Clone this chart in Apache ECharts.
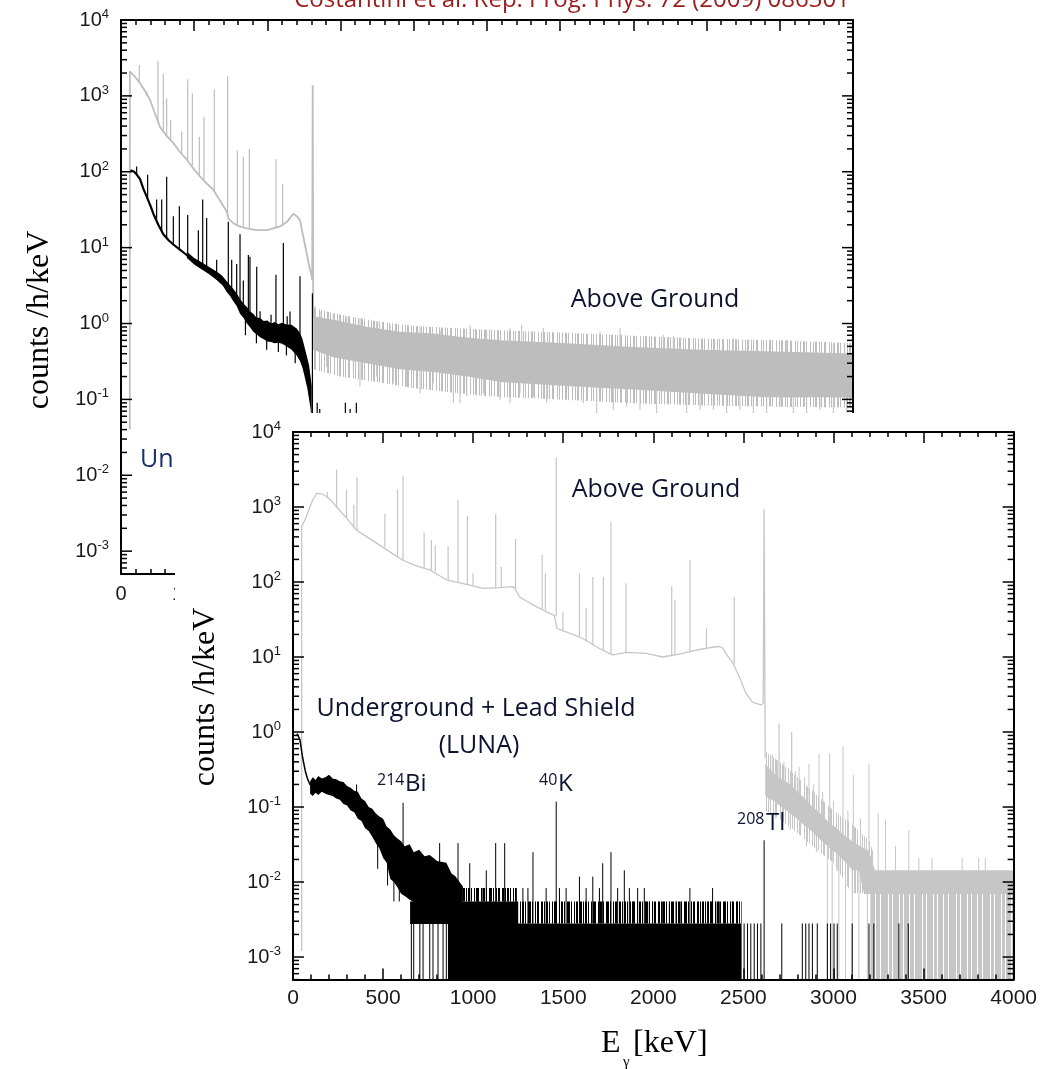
<!DOCTYPE html>
<html>
<head>
<meta charset="utf-8">
<script src="https://cdn.jsdelivr.net/npm/echarts@6/dist/echarts.min.js"></script>
<style>
  html, body { margin: 0; padding: 0; background: #fff; }
  #main { width: 1040px; height: 1069px; }
</style>
</head>
<body>
<div id="main"></div>
<script>
// ---------------- spectra (energy in keV, rate in counts/h/keV) ----------------

// Wide-range spectrum, above ground: smooth part up to the 2614 keV line
const backAboveCurve = [
  [120, 0.04], [121, 2100], [146, 2090], [200, 1750], [260, 1470], [330, 1150], [396, 890],
  [460, 600], [533, 390], [620, 300], [715, 240], [800, 185], [897, 145], [990, 110],
  [1079, 87], [1170, 70], [1261, 58], [1350, 42], [1444, 30], [1470, 24], [1535, 21],
  [1620, 19], [1717, 18], [1850, 17], [1990, 17], [2080, 18], [2172, 19], [2270, 22],
  [2354, 28], [2400, 26], [2445, 23], [2490, 14], [2536, 8.5], [2575, 5.5], [2605, 4.2],
  [2612, 3.8], [2619, 1380], [2626, 1.2]
];
// lines: [energy, foot, top]
const backAbovePeaks = [
  [250, 1470, 2550], [351, 1000, 1140], [505, 450, 2910], [578, 330, 1950], [624, 300, 930],
  [678, 260, 480], [829, 170, 340], [911, 145, 1660], [975, 120, 1080], [1070, 90, 290],
  [1134, 78, 530], [1275, 55, 1220], [1457, 28, 1820], [1589, 20, 190], [1671, 19, 158],
  [1753, 18, 200], [2117, 18, 146], [2209, 20, 69]
];
// noisy continuum above 2.6 MeV: [energy, low, high]
const backAboveBand = [
  [2626, 0.45, 1.25], [2900, 0.36, 1.12], [3356, 0.30, 0.91], [3811, 0.25, 0.78],
  [4268, 0.23, 0.74], [4736, 0.20, 0.65], [5191, 0.17, 0.60], [6089, 0.15, 0.55],
  [6995, 0.135, 0.49], [7910, 0.12, 0.45], [8820, 0.107, 0.43], [9730, 0.107, 0.41],
  [10000, 0.105, 0.40]
];
const backAboveFringe = [
  [2626, 0.25, 1.6], [3000, 0.2, 1.3], [3500, 0.17, 1.07], [4000, 0.14, 0.93],
  [5000, 0.11, 0.83], [6000, 0.1, 0.76], [7000, 0.089, 0.69], [8000, 0.083, 0.63],
  [9000, 0.08, 0.6], [10000, 0.078, 0.55]
];
const backAboveSpikes = [
  [2650, 0.8, 1.67], [2719, 0.8, 1.44], [2900, 0.7, 1.37], [3083, 0.6, 1.23], [3265, 0.6, 1.17],
  [3493, 0.5, 1.06], [3675, 0.5, 0.96], [4085, 0.45, 0.91], [4358, 0.4, 0.82], [4768, 0.4, 0.96],
  [4996, 0.35, 0.82], [5314, 0.33, 0.87], [5474, 0.33, 0.96], [5770, 0.3, 0.87], [6544, 0.28, 0.78],
  [6817, 0.27, 0.87], [7409, 0.25, 0.71], [7545, 0.25, 0.68], [8365, 0.22, 0.64], [9094, 0.2, 0.61],
  [9731, 0.2, 0.55], [9959, 0.2, 0.5],
  [2810, 0.27, 0.6], [2992, 0.33, 0.6], [3174, 0.245, 0.5], [3265, 0.148, 0.5], [3493, 0.2, 0.5],
  [3720, 0.163, 0.45], [3903, 0.148, 0.45], [4085, 0.12, 0.4], [4267, 0.163, 0.4], [4540, 0.089, 0.4],
  [4631, 0.089, 0.4], [4723, 0.109, 0.35], [4950, 0.12, 0.35], [5178, 0.098, 0.33], [5314, 0.089, 0.33],
  [5451, 0.12, 0.3], [5633, 0.109, 0.3], [5816, 0.089, 0.3], [6089, 0.133, 0.3], [6316, 0.089, 0.28],
  [6499, 0.05, 0.28], [6726, 0.073, 0.27], [6908, 0.08, 0.27], [7090, 0.073, 0.26], [7318, 0.05, 0.25],
  [7728, 0.05, 0.24], [7910, 0.073, 0.24], [8092, 0.073, 0.23], [8274, 0.05, 0.23], [8456, 0.073, 0.22],
  [8638, 0.05, 0.22], [8821, 0.05, 0.21], [9003, 0.08, 0.21], [9184, 0.05, 0.2], [9367, 0.05, 0.2],
  [9549, 0.073, 0.2], [9731, 0.05, 0.2], [9914, 0.05, 0.2]
];

// Wide-range spectrum, underground with lead shield
const backUnderCurve = [
  [130, 105], [146, 108], [180, 100], [214, 92], [260, 80], [305, 60], [351, 47], [400, 36],
  [442, 28], [510, 20], [578, 15], [650, 12.5], [715, 11], [800, 9.5], [897, 8.0], [990, 6.6],
  [1079, 5.6], [1170, 5.0], [1261, 4.3], [1350, 3.6], [1444, 3.0]
];
const backUnderBand = [
  [900, 7.3, 8.8], [1000, 6.0, 7.3], [1100, 5.2, 6.4], [1200, 4.5, 5.6], [1300, 3.8, 4.9],
  [1380, 3.3, 4.3], [1444, 2.6, 3.6], [1490, 2.3, 3.2], [1530, 2.0, 2.9], [1580, 1.7, 2.5],
  [1626, 1.35, 2.1], [1670, 1.2, 1.85], [1720, 1.0, 1.65], [1760, 0.9, 1.45], [1807, 0.78, 1.35],
  [1850, 0.72, 1.2], [1900, 0.66, 1.18], [1950, 0.62, 1.08], [2000, 0.58, 1.1], [2050, 0.57, 1.0],
  [2100, 0.55, 1.05], [2150, 0.56, 0.98], [2200, 0.54, 1.02], [2260, 0.5, 0.97], [2330, 0.45, 0.96],
  [2400, 0.38, 0.86], [2445, 0.32, 0.75], [2480, 0.26, 0.62], [2514, 0.19, 0.46], [2545, 0.14, 0.35],
  [2570, 0.1, 0.28], [2590, 0.075, 0.2], [2605, 0.05, 0.15]
];
const backUnderPeaks = [
  [214, 90, 117], [364, 44, 91], [487, 24, 43], [556, 16, 43], [624, 13, 86], [715, 11, 26],
  [797, 9.5, 35], [911, 8, 27], [1057, 6, 17], [1116, 5.5, 43], [1170, 5, 24.5], [1307, 4, 6.9],
  [1466, 2.8, 22], [1512, 2.3, 6.9], [1580, 2, 6.1], [1626, 1.6, 15], [1671, 1.4, 3.7],
  [1740, 1.1, 8], [1762, 1.1, 7.6], [1854, 0.9, 5.6], [2117, 0.8, 4.4], [2218, 0.8, 11.5],
  [2309, 0.7, 1.44], [2445, 0.5, 4.2], [2615, 0.0005, 2.5],
  [1700, 0.7, 1.3], [1850, 0.55, 1.0], [1990, 0.45, 0.8], [2150, 0.42, 0.8], [2260, 0.38, 0.7],
  [2380, 0.3, 0.6], [1900, 0.9, 1.45], [2050, 0.8, 1.3], [2270, 0.8, 1.25],
  [2680, 0.0005, 0.09], [2715, 0.0005, 0.075], [3065, 0.0005, 0.09], [3130, 0.0005, 0.075], [3215, 0.0005, 0.09]
];

// Zoomed spectrum (0-4 MeV), above ground
const frontAboveCurve = [
  [48, 0.0012], [48, 550], [70, 700], [90, 950], [110, 1250], [131, 1520], [160, 1500], [187, 1370],
  [215, 1200], [242, 1000], [300, 700], [353, 490], [410, 400], [464, 330], [540, 250], [611, 195],
  [680, 165], [759, 145], [851, 107], [920, 98], [981, 91], [1054, 82], [1150, 84], [1220, 87],
  [1235, 80], [1258, 63], [1300, 55], [1350, 47], [1400, 41], [1451, 36], [1458, 35], [1465, 24],
  [1530, 21], [1590, 18.6], [1640, 16], [1682, 13.7], [1730, 12], [1775, 10.7], [1850, 11.5],
  [1960, 11.2], [2052, 10.0], [2150, 11], [2250, 12.5], [2330, 13.5], [2366, 13.8], [2384, 13.2],
  [2410, 10.5], [2440, 8.4], [2477, 5.5], [2514, 3.3], [2550, 2.5], [2597, 2.3], [2610, 2.4],
  [2615, 940], [2621, 0.45]
];
const frontAbovePeaks = [
  [190, 1350, 1600], [242, 1000, 3150], [297, 720, 1690], [338, 530, 1070], [355, 490, 2490],
  [510, 290, 810], [580, 215, 1720], [611, 195, 2620], [728, 155, 455], [768, 143, 363],
  [790, 138, 310], [861, 105, 302], [916, 98, 1240], [968, 92, 760], [999, 90, 131],
  [1125, 83, 807], [1156, 84, 159], [1235, 80, 374], [1383, 44, 230], [1401, 42, 130],
  [1461, 35, 4540], [1498, 22, 40], [1590, 18.6, 131], [1627, 16, 45], [1664, 14.5, 117],
  [1723, 12.5, 117], [1765, 11, 637], [1848, 11.5, 96], [2102, 10.2, 88], [2120, 10.5, 58],
  [2203, 11.5, 196], [2295, 13, 24], [2449, 8, 63], [2698, 0.25, 1.3], [2768, 0.18, 1.0]
];
const frontAboveBand = [
  [2621, 0.14, 0.38], [2643, 0.13, 0.33], [2670, 0.12, 0.28], [2700, 0.105, 0.25], [2735, 0.092, 0.22],
  [2770, 0.078, 0.19], [2800, 0.07, 0.16], [2827, 0.06, 0.14], [2860, 0.052, 0.115], [2890, 0.045, 0.097],
  [2920, 0.038, 0.085], [2950, 0.033, 0.072], [2980, 0.028, 0.06], [3012, 0.025, 0.054],
  [3040, 0.021, 0.046], [3070, 0.018, 0.04], [3104, 0.0143, 0.035], [3140, 0.0143, 0.031],
  [3170, 0.0069, 0.028], [3197, 0.0069, 0.026], [3230, 0.0069, 0.0143], [4000, 0.0069, 0.0143]
];
const frontAboveFringe = [
  [2621, 0.09, 0.55], [2700, 0.07, 0.4], [2800, 0.045, 0.25], [2900, 0.028, 0.15],
  [3000, 0.018, 0.09], [3100, 0.0071, 0.06], [3200, 0.0071, 0.035], [3230, 0.0071, 0.0214]
];
const frontAboveFloor = [[3205, 0.0005, 0.0072], [4000, 0.0005, 0.0072]];
const frontAboveSpikes = [
  [2809, 0.1, 0.345], [2864, 0.08, 0.38], [2920, 0.05, 0.52], [2979, 0.035, 0.52], [3053, 0.025, 0.64],
  [3110, 0.02, 0.27], [3197, 0.012, 0.38], [3248, 0.0143, 0.083], [3289, 0.0143, 0.068],
  [3344, 0.0143, 0.03], [3418, 0.0143, 0.049], [3474, 0.0143, 0.021], [3547, 0.0143, 0.021],
  [3714, 0.0143, 0.021], [3806, 0.0143, 0.021], [3843, 0.0143, 0.021],
  [2660, 0.2, 0.5], [2690, 0.15, 0.42], [2725, 0.12, 0.4], [2750, 0.1, 0.33], [2790, 0.09, 0.3],
  [2840, 0.07, 0.25], [2890, 0.06, 0.2], [2940, 0.05, 0.16], [3000, 0.04, 0.12], [3080, 0.025, 0.09],
  [3150, 0.02, 0.07],
  [2680, 0.07, 0.2], [2760, 0.05, 0.15], [2850, 0.03, 0.1], [2905, 0.025, 0.07], [3020, 0.014, 0.04],
  [2966, 0.0005, 0.03], [2993, 0.0005, 0.03], [3030, 0.0005, 0.025], [3067, 0.0005, 0.02],
  [3104, 0.0005, 0.015], [3141, 0.0005, 0.015], [3188, 0.0005, 0.01]
];

// Zoomed spectrum (0-4 MeV), underground with lead shield (LUNA)
const frontUnderCurve = [
  [22, 0.95], [30, 0.9], [38, 0.8], [45, 0.62], [52, 0.48], [60, 0.38], [70, 0.29], [80, 0.24],
  [94, 0.2], [110, 0.19]
];
const frontUnderBand = [
  [95, 0.15, 0.22], [110, 0.14, 0.25], [125, 0.155, 0.23], [140, 0.145, 0.26], [160, 0.16, 0.24],
  [180, 0.15, 0.25], [200, 0.145, 0.27], [220, 0.14, 0.24], [240, 0.13, 0.235], [260, 0.125, 0.22],
  [280, 0.11, 0.215], [300, 0.105, 0.19], [320, 0.09, 0.18], [340, 0.085, 0.165], [360, 0.07, 0.16],
  [380, 0.065, 0.13], [400, 0.052, 0.12], [420, 0.048, 0.1], [440, 0.04, 0.095], [460, 0.033, 0.082],
  [480, 0.028, 0.075], [500, 0.021, 0.07], [520, 0.018, 0.055], [540, 0.011, 0.05], [560, 0.01, 0.042],
  [580, 0.0085, 0.038], [600, 0.007, 0.035], [620, 0.0065, 0.03], [648, 0.0058, 0.032],
  [670, 0.0054, 0.025], [700, 0.0054, 0.027], [730, 0.0054, 0.022], [759, 0.0054, 0.023],
  [800, 0.0054, 0.019], [851, 0.0054, 0.018], [880, 0.0054, 0.013], [900, 0.0054, 0.012],
  [943, 0.0054, 0.0087]
];
const frontUnderLevelTwo = [[650, 0.00275, 0.0055], [1250, 0.00275, 0.0055]];
const frontUnderLevelThree = [[943, 0.0055, 0.0083], [1240, 0.0055, 0.0083]];
const frontUnderLevelTwoSparse = [[1250, 0.0028, 0.0055], [2490, 0.0028, 0.0055]];
const frontUnderFloor = [[860, 0.0005, 0.0028], [2490, 0.0005, 0.0028]];
const frontUnderSpikes = [
  [353, 0.12, 0.2], [611, 0.015, 0.114], [1461, 0.0028, 0.118], [2615, 0.0005, 0.036],
  [470, 0.015, 0.04], [525, 0.009, 0.025], [560, 0.0055, 0.02], [590, 0.0055, 0.015],
  [814, 0.005, 0.033], [916, 0.005, 0.033], [981, 0.005, 0.0178], [1073, 0.005, 0.0143],
  [1125, 0.005, 0.033], [1175, 0.005, 0.033], [1332, 0.0028, 0.025], [1590, 0.0028, 0.0118],
  [1664, 0.0028, 0.0118], [1719, 0.0028, 0.0178], [1765, 0.0028, 0.025], [1839, 0.0028, 0.0143],
  [1027, 0.0028, 0.0083], [1054, 0.0028, 0.0083], [1091, 0.0028, 0.0083], [1239, 0.0028, 0.0083],
  [1276, 0.0028, 0.0083], [1304, 0.0028, 0.0083], [1405, 0.0028, 0.0083], [1479, 0.0028, 0.0083],
  [1516, 0.0028, 0.0083], [1627, 0.0028, 0.0083], [1701, 0.0028, 0.0083], [1802, 0.0028, 0.0083],
  [1867, 0.0028, 0.0083], [1913, 0.0028, 0.0083], [1950, 0.0028, 0.0083], [2203, 0.0028, 0.0083],
  [2329, 0.0028, 0.0083],
  [1886, 0.0028, 0.0055], [1959, 0.0028, 0.0055], [1978, 0.0028, 0.0055], [1996, 0.0028, 0.0055],
  [2052, 0.0028, 0.0055], [2089, 0.0028, 0.0055], [2126, 0.0028, 0.0055], [2153, 0.0028, 0.0055],
  [2301, 0.0028, 0.0055], [2319, 0.0028, 0.0055], [2347, 0.0028, 0.0055], [2366, 0.0028, 0.0055],
  [2439, 0.0028, 0.0055], [2467, 0.0028, 0.0055],
  [2504, 0.0005, 0.0028], [2523, 0.0005, 0.0028], [2541, 0.0005, 0.0028], [2560, 0.0005, 0.0028],
  [2578, 0.0005, 0.0028], [2597, 0.0005, 0.0028], [2713, 0.0005, 0.0028], [2827, 0.0005, 0.0028],
  [2846, 0.0005, 0.0028], [2864, 0.0005, 0.0028], [2883, 0.0005, 0.0028], [2910, 0.0005, 0.0028],
  [2966, 0.0005, 0.0028], [2984, 0.0005, 0.0028], [3003, 0.0005, 0.0028], [3021, 0.0005, 0.0028],
  [3104, 0.0005, 0.0028], [3197, 0.0005, 0.0028], [3224, 0.0005, 0.0028], [3363, 0.0005, 0.0028],
  [3415, 0.0005, 0.0028],
  [657, 0.0005, 0.0055], [670, 0.0005, 0.0055], [704, 0.0005, 0.0055], [722, 0.0005, 0.0055],
  [759, 0.0005, 0.0055], [777, 0.0005, 0.0055], [805, 0.0005, 0.0055], [833, 0.0005, 0.0055],
  [851, 0.0005, 0.0055]
];

// ---------------- axes ----------------
const yMin = 0.0005, yMax = 10000;
const yTickDecades = [-4, -3, -2, -1, 0, 1, 2, 3];
const yTickSteps = [1, 2, 3, 4, 5, 6, 7, 8, 9];
const backXRange = [0, 10000], backXStep = 1000;
const frontXRange = [0, 4000], frontXStep = 500;

const TICK_FONT = '"Liberation Sans", Arial, sans-serif';
const SERIF = '"Liberation Serif", "Times New Roman", serif';
const NOTE_FONT = '"Open Sans", "Liberation Sans", sans-serif';
const GRAY_BACK = '#bdbdbd';
const GRAY_FRONT = '#c6c6c6';
const INK = '#0d1330';

// channel-comb textures for the sparsely filled count levels (1 = drawn column)
function comb(mask, color) {
  const c = document.createElement('canvas');
  c.width = mask.length; c.height = 8;
  const g = c.getContext('2d');
  g.fillStyle = color;
  for (let i = 0; i < mask.length; i++) if (mask[i] === '1') g.fillRect(i, 0, 1, 8);
  return { image: c, repeat: 'repeat' };
}
const BLACK_HALF = comb('110100101110010110100111010010110011010', '#000');
const GRAY_FRINGE = comb('1001010011000101001001101000100101', GRAY_BACK);
const GRAY_FRONT_FRINGE = comb('101001011000101101001010', GRAY_FRONT);
const GRAY_FLOOR = comb('1111011101111110111011111011110111', GRAY_FRONT);

const yTicks = [];
yTickDecades.forEach(function (d) {
  yTickSteps.forEach(function (k) {
    const v = k * Math.pow(10, d);
    if (v >= yMin * 0.999 && v <= yMax * 1.001) yTicks.push([0, v, k === 1 ? 1 : 0]);
  });
});
yTicks.push([0, yMax, 1]);

function powLabel(v) {
  const l = Math.log10(v);
  const p = Math.round(l);
  if (Math.abs(l - p) > 1e-6) return '';
  return '{b|10}{s|' + p + '}';
}
const yLabelRich = {
  b: { fontSize: 20, fontFamily: TICK_FONT, color: '#1a1a1a', lineHeight: 24 },
  s: { fontSize: 13, fontFamily: TICK_FONT, color: '#1a1a1a', lineHeight: 12, verticalAlign: 'top' }
};

function xAxisPair(grid, range, step, fontSize, margin) {
  const common = {
    type: 'value', gridIndex: grid, min: range[0], max: range[1], interval: step,
    zlevel: grid, z: 10, splitLine: { show: false },
    axisLine: { show: true, onZero: false, lineStyle: { color: '#000', width: 2 } },
    axisTick: { show: true, inside: true, length: 11, lineStyle: { color: '#000', width: 1.5 } },
    minorTick: { show: true, splitNumber: 5, length: 5, lineStyle: { color: '#000', width: 1.5 } }
  };
  return [
    Object.assign({}, common, {
      position: 'bottom',
      axisLabel: { show: true, fontSize: fontSize, fontFamily: TICK_FONT, color: '#1a1a1a', margin: margin,
        formatter: function (v) { return String(v); } }
    }),
    Object.assign({}, common, { position: 'top', axisLabel: { show: false } })
  ];
}
function yAxisPair(grid) {
  const common = {
    type: 'log', logBase: 10, gridIndex: grid, min: yMin, max: yMax, zlevel: grid, z: 10,
    splitLine: { show: false }, axisTick: { show: false }, minorTick: { show: false },
    axisLine: { show: true, onZero: false, lineStyle: { color: '#000', width: 2 } }
  };
  return [
    Object.assign({}, common, {
      position: 'left',
      axisLabel: { show: true, margin: 12, formatter: powLabel, rich: yLabelRich, showMinLabel: true }
    }),
    Object.assign({}, common, { position: 'right', axisLabel: { show: false } })
  ];
}

// ---------------- series builders ----------------
function lineSeries(data, grid, color, width, z) {
  return {
    type: 'line', xAxisIndex: grid * 2, yAxisIndex: grid * 2, zlevel: grid, z: z,
    data: data, symbol: 'none', showSymbol: false, silent: true, animation: false,
    lineStyle: { color: color, width: width }, clip: true
  };
}
function strokeSeries(data, grid, color, width, z) {
  return {
    type: 'custom', xAxisIndex: grid * 2, yAxisIndex: grid * 2, zlevel: grid, z: z,
    data: data, dimensions: ['e', 'lo', 'hi'], encode: { x: 0, y: [1, 2] },
    silent: true, animation: false, clip: true,
    renderItem: function (params, api) {
      const a = api.coord([api.value(0), api.value(1)]);
      const b = api.coord([api.value(0), api.value(2)]);
      return { type: 'line', shape: { x1: a[0], y1: a[1], x2: b[0], y2: b[1] },
        style: { stroke: color, lineWidth: width } };
    }
  };
}
function bandSeries(data, grid, fill, opacity, z) {
  return {
    type: 'custom', xAxisIndex: grid * 2, yAxisIndex: grid * 2, zlevel: grid, z: z,
    data: data, dimensions: ['e', 'lo', 'hi'], encode: { x: 0, y: [1, 2] },
    silent: true, animation: false, clip: true,
    renderItem: function (params, api) {
      if (params.dataIndexInside !== 0) return null;
      const n = params.dataInsideLength;
      const pts = [];
      for (let j = 0; j < n; j++) pts.push(api.coord([api.value(0, j), api.value(2, j)]));
      for (let j = n - 1; j >= 0; j--) pts.push(api.coord([api.value(0, j), api.value(1, j)]));
      return { type: 'polygon', shape: { points: pts }, style: { fill: fill, opacity: opacity } };
    }
  };
}
function yTickSeries(grid) {
  return {
    type: 'custom', xAxisIndex: grid * 2, yAxisIndex: grid * 2, zlevel: grid, z: 12,
    data: yTicks, silent: true, animation: false,
    renderItem: function (params, api) {
      const cs = params.coordSys;
      const y = api.coord([api.value(0), api.value(1)])[1];
      const len = api.value(2) ? 11 : 6;
      return { type: 'group', children: [
        { type: 'line', shape: { x1: cs.x, y1: y, x2: cs.x + len, y2: y }, style: { stroke: '#000', lineWidth: 1.5 } },
        { type: 'line', shape: { x1: cs.x + cs.width, y1: y, x2: cs.x + cs.width - len, y2: y }, style: { stroke: '#000', lineWidth: 1.5 } }
      ] };
    }
  };
}

function note(text, x, y, size, align) {
  return {
    type: 'text', x: x, y: y, zlevel: 1, z: 30, silent: true,
    style: { text: text, fill: INK, font: size + 'px ' + NOTE_FONT, align: align || 'left', verticalAlign: 'middle' }
  };
}

const chart = echarts.init(document.getElementById('main'), null, { renderer: 'canvas' });
const backX = xAxisPair(0, backXRange, backXStep, 20, 10);
const frontX = xAxisPair(1, frontXRange, frontXStep, 21, 8);

chart.setOption({
  backgroundColor: '#fff',
  animation: false,
  grid: [
    { left: 121, top: 20, width: 732, height: 554, containLabel: false, zlevel: 0 },
    { left: 293, top: 432, width: 722, height: 547.6, containLabel: false, zlevel: 1 }
  ],
  xAxis: [backX[0], backX[1], frontX[0], frontX[1]],
  yAxis: yAxisPair(0).concat(yAxisPair(1)),
  series: [
    // wide range
    bandSeries(backAboveFringe, 0, GRAY_FRINGE, 1, 2),
    bandSeries(backAboveBand, 0, GRAY_BACK, 1, 2),
    strokeSeries(backAboveSpikes, 0, GRAY_BACK, 1, 3),
    lineSeries(backAboveCurve, 0, GRAY_BACK, 1.8, 3),
    strokeSeries(backAbovePeaks, 0, GRAY_BACK, 1.2, 3),
    bandSeries(backUnderBand, 0, '#000', 1, 4),
    lineSeries(backUnderCurve, 0, '#000', 2.2, 5),
    strokeSeries(backUnderPeaks, 0, '#000', 1.2, 5),
    yTickSeries(0),
    // zoomed range
    lineSeries(frontAboveCurve, 1, GRAY_FRONT, 1.3, 3),
    strokeSeries(frontAbovePeaks, 1, GRAY_FRONT, 1.2, 3),
    bandSeries(frontAboveFringe, 1, GRAY_FRONT_FRINGE, 1, 2),
    bandSeries(frontAboveFloor, 1, GRAY_FLOOR, 1, 2),
    bandSeries(frontAboveBand, 1, GRAY_FRONT, 1, 2),
    strokeSeries(frontAboveSpikes, 1, GRAY_FRONT, 1, 3),
    bandSeries(frontUnderFloor, 1, '#000', 1, 4),
    bandSeries(frontUnderLevelTwo, 1, '#000', 1, 4),
    bandSeries(frontUnderLevelThree, 1, BLACK_HALF, 1, 4),
    bandSeries(frontUnderLevelTwoSparse, 1, BLACK_HALF, 1, 4),
    bandSeries(frontUnderBand, 1, '#000', 1, 4),
    lineSeries(frontUnderCurve, 1, '#000', 1.5, 5),
    strokeSeries(frontUnderSpikes, 1, '#000', 1, 5),
    yTickSeries(1)
  ],
  graphic: { elements: [
    // citation line
    { type: 'text', x: 572, y: 0, zlevel: 0, z: 30, silent: true,
      style: { text: 'Costantini et al. Rep. Prog. Phys. 72 (2009) 086301', fill: '#9b1c1c',
        font: '24px ' + NOTE_FONT, align: 'center', verticalAlign: 'middle' } },
    // wide-range panel texts
    { type: 'text', x: 40, y: 320, rotation: Math.PI / 2, zlevel: 0, z: 30, silent: true,
      style: { text: 'counts /h/keV', fill: '#000', font: '32px ' + SERIF, align: 'center', verticalAlign: 'middle' } },
    { type: 'text', x: 655, y: 300, zlevel: 0, z: 30, silent: true,
      style: { text: 'Above Ground', fill: INK, font: '25px ' + NOTE_FONT, align: 'center', verticalAlign: 'middle' } },
    { type: 'text', x: 140, y: 460, zlevel: 0, z: 30, silent: true,
      style: { text: 'Underground + Lead Shield', fill: '#17306a', font: '25px ' + NOTE_FONT, align: 'left', verticalAlign: 'middle' } },
    // sheet of the zoomed panel
    { type: 'rect', zlevel: 1, z: -10, silent: true, shape: { x: 175, y: 413, width: 865, height: 656 }, style: { fill: '#fff' } },
    // zoomed panel texts
    { type: 'text', x: 206, y: 697, rotation: Math.PI / 2, zlevel: 1, z: 30, silent: true,
      style: { text: 'counts /h/keV', fill: '#000', font: '32px ' + SERIF, align: 'center', verticalAlign: 'middle' } },
    { type: 'text', x: 601, y: 1044, zlevel: 1, z: 30, silent: true,
      style: { text: 'E', fill: '#000', font: '32px ' + SERIF, align: 'left', verticalAlign: 'middle' } },
    { type: 'text', x: 623, y: 1062, zlevel: 1, z: 30, silent: true,
      style: { text: 'γ', fill: '#000', font: '15px ' + SERIF, align: 'left', verticalAlign: 'middle' } },
    { type: 'text', x: 633, y: 1044, zlevel: 1, z: 30, silent: true,
      style: { text: '[keV]', fill: '#000', font: '32px ' + SERIF, align: 'left', verticalAlign: 'middle' } },
    note('Above Ground', 656, 490, 25, 'center'),
    note('Underground + Lead Shield', 476, 709, 25, 'center'),
    note('(LUNA)', 479, 746, 25, 'center'),
    note('214', 377, 780, 16),
    note('Bi', 405, 784, 24),
    note('40', 539, 780, 16),
    note('K', 558, 784, 24),
    note('208', 737, 819, 16),
    note('Tl', 766, 823, 24)
  ] }
});
</script>
</body>
</html>
